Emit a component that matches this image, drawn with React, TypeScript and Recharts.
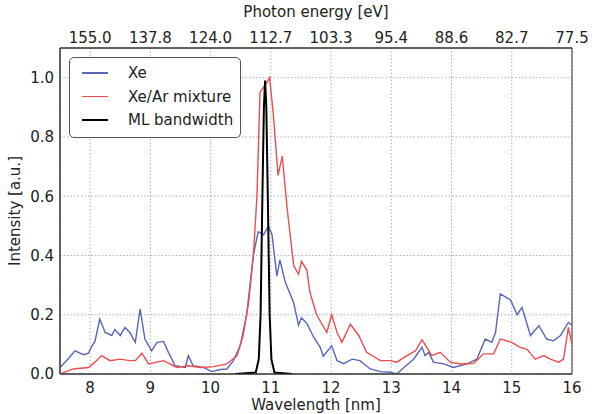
import { LineChart, Line, XAxis, YAxis, CartesianGrid, ReferenceArea } from 'recharts'

// wavelength [nm] / intensity [a.u.]
const xeWavelength = [
  7.5, 7.63, 7.75, 7.89, 7.97, 8.03, 8.08, 8.16, 8.25, 8.36, 8.41, 8.5, 8.58, 8.66, 8.75, 8.83,
  8.91, 9.02, 9.11, 9.22, 9.3, 9.41, 9.58, 9.63, 9.71, 9.88, 10.02, 10.16, 10.27, 10.38, 10.49,
  10.6, 10.66, 10.71, 10.79, 10.88, 10.96, 11.02, 11.1, 11.15, 11.24, 11.38, 11.46, 11.51,
  11.6, 11.71, 11.82, 11.87, 12.01, 12.1, 12.21, 12.35, 12.48, 12.65, 12.82, 12.98, 13.09,
  13.2, 13.37, 13.51, 13.56, 13.62, 13.7, 13.87, 14.03, 14.26, 14.42, 14.56, 14.67, 14.73,
  14.81, 14.98, 15.09, 15.17, 15.31, 15.45, 15.58, 15.69, 15.81, 15.94, 16.0,
]
const xeIntensity = [
  0.022, 0.05, 0.078, 0.065, 0.07, 0.095, 0.11, 0.185, 0.14, 0.13, 0.15, 0.13, 0.157, 0.14, 0.107, 0.22,
  0.118, 0.078, 0.107, 0.11, 0.073, 0.028, 0.022, 0.062, 0.028, 0.022, 0.008, 0.015, 0.017, 0.045, 0.095,
  0.2, 0.31, 0.4, 0.48, 0.47, 0.5, 0.47, 0.33, 0.385, 0.31, 0.24, 0.165, 0.19,
  0.17, 0.125, 0.09, 0.06, 0.095, 0.045, 0.035, 0.05, 0.045, 0.017, 0.008, 0.006, 0.0,
  0.02, 0.05, 0.09, 0.062, 0.073, 0.04, 0.034, 0.022, 0.034, 0.05, 0.118, 0.107, 0.14,
  0.27, 0.25, 0.2, 0.225, 0.13, 0.163, 0.118, 0.112, 0.13, 0.174, 0.165,
]

const mixWavelength = [
  7.5, 7.72, 7.97, 8.08, 8.19, 8.33, 8.5, 8.66, 8.75, 8.86, 8.97, 9.22, 9.44, 9.63, 9.83,
  10.05, 10.27, 10.44, 10.54, 10.63, 10.71, 10.77, 10.82, 10.89, 10.98, 11.04, 11.12, 11.19,
  11.27, 11.38, 11.46, 11.51, 11.6, 11.65, 11.76, 11.93, 12.01, 12.1, 12.18, 12.32, 12.46,
  12.59, 12.82, 12.98, 13.09, 13.26, 13.4, 13.51, 13.59, 13.67, 13.81, 13.98, 14.15, 14.37,
  14.53, 14.7, 14.81, 15.0, 15.14, 15.25, 15.39, 15.53, 15.64, 15.78, 15.86, 15.94, 16.0,
]
const mixIntensity = [
  0.0, 0.017, 0.022, 0.04, 0.062, 0.045, 0.05, 0.045, 0.045, 0.07, 0.034, 0.045, 0.022, 0.028, 0.022,
  0.025, 0.034, 0.062, 0.13, 0.24, 0.4, 0.6, 0.95, 0.97, 1.0, 0.88, 0.67, 0.735,
  0.56, 0.365, 0.337, 0.38, 0.35, 0.275, 0.2, 0.14, 0.2, 0.14, 0.107, 0.168, 0.13,
  0.073, 0.045, 0.045, 0.04, 0.062, 0.078, 0.115, 0.09, 0.062, 0.073, 0.04, 0.034, 0.036,
  0.068, 0.068, 0.118, 0.107, 0.09, 0.084, 0.05, 0.062, 0.05, 0.04, 0.05, 0.157, 0.1,
]

const mlWavelength = [10.41, 10.75, 10.8, 10.83, 10.86, 10.885, 10.905, 10.925, 10.95, 10.98, 11.01, 11.06, 11.35]
const mlIntensity = [0, 0.005, 0.05, 0.2, 0.6, 0.9, 0.99, 0.9, 0.6, 0.2, 0.05, 0.005, 0]

const wavelengthTicks = [8, 9, 10, 11, 12, 13, 14, 15, 16]
const energyLabels = ['155.0', '137.8', '124.0', '112.7', '103.3', '95.4', '88.6', '82.7', '77.5']
const intensityTicks = [0, 0.2, 0.4, 0.6, 0.8, 1.0]

const toPoints = (xs: number[], ys: number[]) => xs.map((x, i) => ({ x, y: ys[i] }))

const xeData = toPoints(xeWavelength, xeIntensity)
const mixData = toPoints(mixWavelength, mixIntensity)
const mlData = toPoints(mlWavelength, mlIntensity)

const FONT = '"DejaVu Sans", sans-serif'
const INK = '#222'
const tickStyle = { fontSize: 15, fill: INK, fontFamily: FONT }

const series = [
  { name: 'Xe', color: '#5866bb', width: 1.4 },
  { name: 'Xe/Ar mixture', color: '#ec4d4d', width: 1.4 },
  { name: 'ML bandwidth', color: '#000000', width: 2 },
]

function LegendBox() {
  return (
    <div style={{
      position: 'absolute', left: 69, top: 57, width: 170, height: 79,
      border: '1px solid #555', borderRadius: 5, background: '#fff',
      fontFamily: FONT, fontSize: 15, color: INK,
    }}>
      {series.map((s, i) => (
        <div key={s.name} style={{ position: 'absolute', left: 0, top: 4 + i * 23.5, height: 22, display: 'flex', alignItems: 'center' }}>
          <span style={{ display: 'inline-block', marginLeft: 12, width: 26, height: s.width, background: s.color }} />
          <span style={{ marginLeft: 20, whiteSpace: 'nowrap' }}>{s.name}</span>
        </div>
      ))}
    </div>
  )
}

export default function App() {
  return (
    <div style={{ position: 'absolute', left: 0, top: 0, width: 592, height: 414, background: '#fff' }}>
      <LineChart width={592} height={414} margin={{ top: 0, right: 20, bottom: 0, left: 8 }}>
        <CartesianGrid xAxisId="wl" stroke="#b0b0b0" strokeDasharray="1.5 2" />
        <XAxis
          xAxisId="wl"
          dataKey="x"
          type="number"
          domain={[7.5, 16]}
          ticks={wavelengthTicks}
          allowDataOverflow
          height={40}
          tick={tickStyle}
          tickLine={false}
          tickSize={4}
          tickMargin={4}
          axisLine={{ stroke: '#333' }}
          label={{ value: 'Wavelength [nm]', position: 'insideBottom', offset: 4, style: { ...tickStyle, textAnchor: 'middle' } }}
        />
        <XAxis
          xAxisId="ev"
          orientation="top"
          dataKey="x"
          type="number"
          domain={[7.5, 16]}
          ticks={wavelengthTicks}
          allowDataOverflow
          height={48}
          tick={tickStyle}
          tickLine={false}
          tickSize={4}
          tickMargin={1}
          tickFormatter={(v: number) => energyLabels[wavelengthTicks.indexOf(v)] ?? ''}
          axisLine={{ stroke: '#333' }}
          label={{ value: 'Photon energy [eV]', position: 'insideTop', offset: 6, style: { ...tickStyle, textAnchor: 'middle' } }}
        />
        <YAxis
          type="number"
          domain={[0, 1.1]}
          ticks={intensityTicks}
          allowDataOverflow
          width={52}
          tick={tickStyle}
          tickLine={false}
          tickSize={4}
          tickMargin={2}
          tickFormatter={(v: number) => v.toFixed(1)}
          axisLine={{ stroke: '#333' }}
          label={{ value: 'Intensity [a.u.]', angle: -90, position: 'insideLeft', offset: 7, style: { ...tickStyle, textAnchor: 'middle' } }}
        />
        <ReferenceArea xAxisId="wl" x1={7.5} x2={16} y1={0} y2={1.1} fill="none" stroke="#333" strokeWidth={1} ifOverflow="visible" />
        <Line xAxisId="wl" data={xeData} dataKey="y" type="linear" stroke={series[0].color} strokeWidth={series[0].width} dot={false} isAnimationActive={false} />
        <Line xAxisId="wl" data={mixData} dataKey="y" type="linear" stroke={series[1].color} strokeWidth={series[1].width} dot={false} isAnimationActive={false} />
        <Line xAxisId="wl" data={mlData} dataKey="y" type="linear" stroke={series[2].color} strokeWidth={series[2].width} dot={false} isAnimationActive={false} />
      </LineChart>
      <LegendBox />
    </div>
  )
}
